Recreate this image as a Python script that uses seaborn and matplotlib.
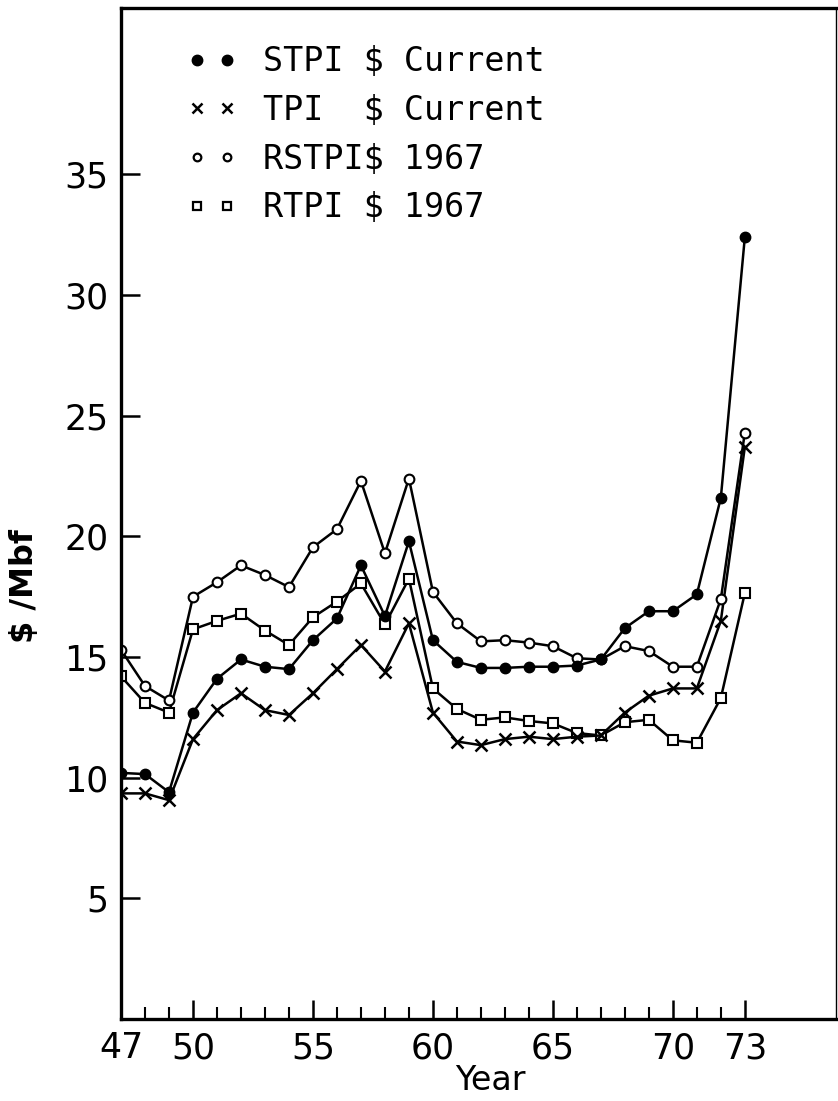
import matplotlib
matplotlib.use("Agg")
import matplotlib.pyplot as plt
import seaborn as sns
import numpy as np
from matplotlib.lines import Line2D
from matplotlib.ticker import FixedLocator

years = list(range(1947, 1974))
year_short = [y - 1900 for y in years]

stpi = [10.2, 10.15, 9.4, 12.7, 14.1, 14.9, 14.6, 14.5, 15.7, 16.6, 18.8, 16.7, 19.8,
        15.7, 14.8, 14.55, 14.55, 14.6, 14.6, 14.65, 14.9, 16.2, 16.9, 16.9, 17.6, 21.6, 32.4]
tpi = [9.35, 9.35, 9.07, 11.6, 12.8, 13.5, 12.8, 12.6, 13.5, 14.5, 15.5, 14.4, 16.4,
       12.7, 11.5, 11.35, 11.6, 11.7, 11.6, 11.7, 11.75, 12.7, 13.4, 13.7, 13.7, 16.5, 23.7]
rstpi = [15.3, 13.8, 13.2, 17.5, 18.1, 18.8, 18.4, 17.9, 19.55, 20.3, 22.3, 19.3, 22.4,
         17.7, 16.4, 15.65, 15.7, 15.6, 15.45, 14.95, 14.9, 15.45, 15.25, 14.6, 14.6, 17.4, 24.3]
rtpi = [14.2, 13.1, 12.7, 16.15, 16.5, 16.8, 16.1, 15.5, 16.65, 17.3, 18.05, 16.35, 18.25,
        13.7, 12.85, 12.4, 12.5, 12.35, 12.25, 11.85, 11.75, 12.3, 12.4, 11.55, 11.45, 13.3, 17.65]

legend_labels = ["STPI $ Current", "TPI  $ Current", "RSTPI$ 1967", "RTPI $ 1967"]
xtick_vals = [47, 50, 55, 60, 65, 70, 73]
xtick_labels = ["47", "50", "55", "60", "65", "70", "73"]
xminor_vals = list(range(48, 73))
ytick_vals = [5, 10, 15, 20, 25, 30, 35]

sns.set_theme(style="white")
plt.rcParams["font.family"] = ["DejaVu Sans"]

fig = plt.figure(figsize=(8.38, 11.01), dpi=100)
ax = fig.add_axes([121 / 838, 1 - 1019 / 1101, 715 / 838, (1019 - 8) / 1101])

lw = 1.8
series = [
    (rtpi, dict(marker="s", markersize=6.5, markerfacecolor="white", markeredgecolor="black", markeredgewidth=1.5)),
    (tpi, dict(marker="x", markersize=8, markeredgecolor="black", markeredgewidth=1.8)),
    (rstpi, dict(marker="o", markersize=7, markerfacecolor="white", markeredgecolor="black", markeredgewidth=1.5)),
    (stpi, dict(marker="o", markersize=7.5, markerfacecolor="black", markeredgecolor="black", markeredgewidth=1)),
]
for vals, mk in series:
    sns.lineplot(x=year_short, y=vals, ax=ax, color="black", linewidth=lw, **mk)

ax.set_xlim(47, 76.8)
ax.set_ylim(0, 41.9)

ax.set_xticks(xtick_vals)
ax.set_xticklabels(xtick_labels, fontsize=25)
ax.xaxis.set_minor_locator(FixedLocator(xminor_vals))
ax.set_yticks(ytick_vals)
ax.set_yticklabels([str(v) for v in ytick_vals], fontsize=25)

ax.tick_params(axis="x", which="major", direction="in", length=14, width=1.8, pad=9, bottom=True, colors="black")
ax.tick_params(axis="x", which="minor", direction="in", length=9, width=1.5, bottom=True, colors="black")
ax.tick_params(axis="y", which="major", direction="in", length=14, width=1.8, pad=9, left=True, colors="black")

for s in ["left", "bottom", "top"]:
    ax.spines[s].set_linewidth(2.4)
    ax.spines[s].set_color("black")
ax.spines["right"].set_linewidth(1.0)
ax.spines["right"].set_color("black")
ax.grid(False)

ax.set_xlabel("Year", fontsize=24, color="black")
ax.xaxis.set_label_coords(0.516, -0.045)
ax.set_ylabel("$ /Mbf", fontsize=23, fontweight="bold", color="black")
ax.yaxis.set_label_coords(-0.113, 0.428)

handles = [
    Line2D([], [], linestyle="none", marker="o", markersize=7.5, markerfacecolor="black", markeredgecolor="black"),
    Line2D([], [], linestyle="none", marker="x", markersize=6.5, markeredgecolor="black", markeredgewidth=1.8),
    Line2D([], [], linestyle="none", marker="o", markersize=5.5, markerfacecolor="white", markeredgecolor="black", markeredgewidth=1.6),
    Line2D([], [], linestyle="none", marker="s", markersize=5.3, markerfacecolor="white", markeredgecolor="black", markeredgewidth=1.6),
]
leg = ax.legend(handles, legend_labels, loc="upper left", bbox_to_anchor=(0.092, 0.963),
                frameon=False, numpoints=2, handlelength=1.5, handletextpad=0.78,
                labelspacing=0.47, borderpad=0, borderaxespad=0,
                prop={"family": ["DejaVu Sans Mono"], "size": 24})
for t in leg.get_texts():
    t.set_color("black")

fig.savefig("out.png", dpi=100, facecolor="white")
